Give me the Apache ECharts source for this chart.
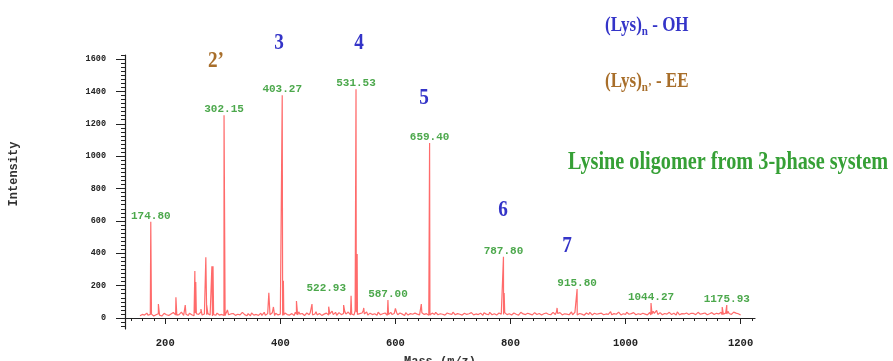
<!DOCTYPE html>
<html>
<head>
<meta charset="utf-8">
<script src="https://cdn.jsdelivr.net/npm/echarts@6/dist/echarts.min.js"></script>
<style>
  html, body { margin: 0; padding: 0; background: #fff; }
  #chart { width: 893px; height: 361px; }
</style>
</head>
<body>
<div id="chart"></div>
<script>
// Baseline profile of the spectrum, two interleaved sample sets (every 4 m/z each)
const noiseStartA = 156;
const noiseStartB = 158;
const noiseStep = 4;
const noiseLevelsA = [
  14, 22, 18, 30, 16, 24, 12, 20, 26, 15, 19, 33, 17, 22, 14, 28, 18, 21, 36, 16,
  23, 15, 27, 19, 31, 14, 22, 18, 25, 20, 16, 29, 21, 17, 34, 19, 24, 15, 28, 22,
  17, 26, 20, 32, 15, 23, 19, 27, 14, 21, 30, 18, 24, 16, 35, 20, 25, 17, 22, 29,
  19, 24, 16, 31, 21, 18, 27, 15, 23, 38, 20, 17, 26, 22, 33, 18, 25, 19, 28, 16,
  24, 30, 18, 26, 21, 35, 19, 27, 23, 40, 20, 31, 25, 18, 36, 22, 28, 44, 24, 19,
  30, 21, 26, 17, 33, 23, 19, 28, 22, 35, 18, 25, 20, 31, 24, 16, 29, 21, 38, 22,
  19, 27, 23, 34, 20, 26, 18, 30, 22, 25, 17, 32, 21, 28, 19, 24, 36, 20, 27, 23,
  18, 29, 22, 26, 33, 19, 25, 21, 30, 17, 27, 23, 35, 20, 26, 18, 31, 24, 22, 28,
  20, 33, 24, 19, 28, 22, 36, 18, 25, 21, 30, 17, 27, 23, 34, 20, 26, 19, 29, 22,
  25, 38, 21, 27, 18, 32, 23, 26, 20, 35, 19, 28, 24, 17, 31, 22, 27, 20, 33, 25,
  21, 29, 18, 34, 24, 20, 27, 23, 36, 19, 26, 22, 31, 25, 18, 28, 24, 38, 21, 30,
  23, 27, 19, 42, 26, 22, 33, 20, 28, 24, 35, 21, 29, 18, 32, 25, 22, 37, 20, 27,
  24, 31, 19, 28, 22, 26, 34, 21, 29, 25, 23, 38, 27, 20, 33, 24, 28, 22, 36, 30,
  26, 18
];
const noiseLevelsB = [
  20, 13, 27, 17, 22, 31, 15, 24, 18, 12, 29, 20, 16, 25, 34, 19, 23, 13, 26, 21,
  17, 30, 20, 14, 26, 22, 37, 16, 21, 27, 19, 13, 24, 30, 18, 22, 16, 33, 20, 25,
  28, 16, 23, 19, 35, 21, 14, 26, 31, 18, 22, 16, 29, 23, 17, 27, 20, 32, 15, 24,
  21, 34, 18, 25, 15, 29, 22, 36, 19, 24, 28, 15, 31, 20, 23, 17, 39, 22, 18, 27,
  31, 19, 26, 42, 23, 17, 33, 21, 28, 24, 37, 19, 29, 46, 22, 27, 31, 25, 38, 23,
  18, 29, 24, 36, 20, 26, 31, 17, 25, 22, 28, 34, 19, 24, 21, 33, 18, 27, 23, 30,
  24, 19, 32, 22, 27, 17, 29, 24, 35, 20, 26, 23, 18, 31, 25, 22, 28, 19, 33, 21,
  27, 22, 17, 34, 23, 28, 21, 26, 19, 32, 24, 20, 29, 22, 37, 25, 19, 27, 33, 21,
  26, 19, 31, 23, 17, 35, 25, 21, 29, 24, 19, 33, 22, 28, 18, 26, 31, 23, 20, 35,
  22, 28, 33, 19, 26, 24, 20, 37, 23, 27, 30, 21, 18, 26, 24, 35, 19, 29, 23, 27,
  30, 20, 25, 22, 39, 26, 19, 32, 24, 28, 21, 35, 23, 27, 33, 20, 26, 22, 29, 24,
  19, 34, 25, 28, 47, 22, 27, 24, 36, 21, 26, 30, 23, 38, 20, 27, 25, 31, 22, 29,
  28, 21, 35, 23, 27, 31, 20, 26, 33, 22, 29, 25, 36, 24, 30, 41, 23, 27, 32, 25,
  22
];

// Unlabelled peaks: m/z and intensity
const minorMz  = [188, 218.5, 234.7, 251.4, 253, 262, 270.5, 272, 281, 283, 308, 380, 388, 405.3, 428, 455, 484, 510, 533.5, 545, 600, 645, 789, 881, 1168];
const minorInt = [86, 128, 80, 290, 222, 55, 375, 80, 320, 320, 50, 156, 68, 230, 105, 86, 70, 80, 395, 62, 60, 86, 155, 62, 68];

// Labelled peaks: m/z and intensity
const peakMz  = [174.80, 302.15, 403.27, 522.93, 531.53, 587.00, 659.40, 787.80, 915.80, 1044.27, 1175.93];
const peakInt = [595, 1253, 1377, 138, 1414, 111, 1082, 378, 179, 92, 80];

// Axis tick labels
const xTickLabels = [200, 400, 600, 800, 1000, 1200];
const yTickLabels = [0, 200, 400, 600, 800, 1000, 1200, 1400, 1600];

// Oligomer annotations
const seriesOH = ['3', '4', '5', '6', '7'];
const seriesEE = ['2\u2019'];

// ---- build the profile: baseline samples plus every peak, in m/z order
const profile = [];
noiseLevelsA.forEach((v, i) => profile.push([noiseStartA + i * noiseStep, v]));
noiseLevelsB.forEach((v, i) => profile.push([noiseStartB + i * noiseStep, v]));
minorMz.forEach((m, i) => profile.push([m, minorInt[i]]));
peakMz.forEach((m, i) => profile.push([m, peakInt[i]]));
profile.sort((a, b) => a[0] - b[0]);

const X_MIN = 130, X_MAX = 1225, Y_MIN = -68, Y_MAX = 1625;

const xMinor = [];
for (let v = 140; v <= 1220; v += 20) if (v % 200 !== 0) xMinor.push(v);
const yMinor = [];
for (let v = -50; v <= 1625; v += 25) if (v % 200 !== 0) yMinor.push(v);

const labelFont = 'Liberation Mono, DejaVu Sans Mono, monospace';
const peakGreen = '#1f921f';
const plain = v => String(v);

const peakData = peakMz.map((m, i) => {
  const item = { value: [m, peakInt[i]] };
  if (m === 522.93) {
    item.label = { position: 'left', distance: 5, offset: [0, -7] };
  }
  return item;
});

const blue = '#3434c8';
const brown = '#a86e2a';
const numFont = 'bold 24px "Liberation Serif", "Times New Roman", serif';

function numText(t, x, y, color) {
  return {
    type: 'text', x: x, y: y, scaleX: 0.8, z: 100,
    style: { text: t, font: numFont, fill: color, textAlign: 'center', textVerticalAlign: 'middle' }
  };
}

const numPos = [[279, 43], [359, 43], [424, 98], [503, 210], [567, 246]];
const graphics = [];
seriesOH.forEach((t, i) => graphics.push(numText(t, numPos[i][0], numPos[i][1], blue)));
graphics.push(numText(seriesEE[0], 216, 61, brown));

function lysLabel(prime, tail, y, color) {
  return {
    type: 'text', x: 605, y: y, scaleX: 0.85, z: 100,
    style: {
      text: '{a|(Lys)}{s|n' + prime + '}{a|' + tail + '}',
      fill: color,
      textVerticalAlign: 'middle',
      rich: {
        a: { fontFamily: 'Liberation Serif', fontWeight: 'bold', fontSize: 20, lineHeight: 24, fill: color, verticalAlign: 'middle' },
        s: { fontFamily: 'Liberation Serif', fontWeight: 'bold', fontSize: 13, lineHeight: 14, fill: color, verticalAlign: 'bottom' }
      }
    }
  };
}
graphics.push(lysLabel('', ' - OH', 26, blue));
graphics.push(lysLabel('\u2019', ' - EE', 82, brown));

graphics.push({
  type: 'text', x: 568, y: 163, scaleX: 0.81, z: 100,
  style: {
    text: 'Lysine oligomer from 3-phase system',
    font: 'bold 25px "Liberation Serif", "Times New Roman", serif',
    fill: '#36a036', textVerticalAlign: 'middle'
  }
});

graphics.push({
  type: 'text', x: 14, y: 174, rotation: Math.PI / 2, z: 100,
  style: {
    text: 'Intensity', font: 'bold 12px ' + labelFont, fill: '#333',
    textAlign: 'center', textVerticalAlign: 'middle'
  }
});

const chart = echarts.init(document.getElementById('chart'), null, { renderer: 'canvas' });
chart.setOption({
  animation: false,
  backgroundColor: '#fff',
  grid: { left: 125, right: 138, top: 55, bottom: 32, containLabel: false, outerBoundsMode: 'none' },
  xAxis: [
    {
      type: 'value', min: X_MIN, max: X_MAX, position: 'bottom',
      name: 'Mass (m/z)', nameLocation: 'middle', nameGap: 27,
      nameTextStyle: { fontFamily: labelFont, fontWeight: 'bold', fontSize: 12, color: '#333' },
      axisLine: { show: true, lineStyle: { color: '#222', width: 1.2 } },
      axisTick: { show: true, customValues: xTickLabels, length: 6, lineStyle: { color: '#222' } },
      axisLabel: { customValues: xTickLabels, formatter: plain, margin: 9, fontFamily: labelFont, fontWeight: 'bold', fontSize: 10.5, color: '#222' },
      splitLine: { show: false }
    },
    {
      type: 'value', min: X_MIN, max: X_MAX, position: 'bottom',
      axisLine: { show: false },
      axisTick: { show: true, customValues: xMinor, length: 3, lineStyle: { color: '#222' } },
      axisLabel: { show: false },
      splitLine: { show: false }
    }
  ],
  yAxis: [
    {
      type: 'value', min: Y_MIN, max: Y_MAX, position: 'left',
      axisLine: { show: true, lineStyle: { color: '#222', width: 1.2 } },
      axisTick: { show: true, customValues: yTickLabels, length: 9, lineStyle: { color: '#222' } },
      axisLabel: { customValues: yTickLabels, formatter: plain, margin: 19, fontFamily: labelFont, fontWeight: 'bold', fontSize: 8.5, color: '#222' },
      splitLine: { show: false }
    },
    {
      type: 'value', min: Y_MIN, max: Y_MAX, position: 'left',
      axisLine: { show: false },
      axisTick: { show: true, customValues: yMinor, length: 4, lineStyle: { color: '#222' } },
      axisLabel: { show: false },
      splitLine: { show: false }
    }
  ],
  series: [
    {
      type: 'line', xAxisIndex: 0, yAxisIndex: 0,
      data: profile, symbol: 'none', sampling: null,
      lineStyle: { color: '#ff6b6b', width: 1.2 },
      silent: true, z: 2
    },
    {
      type: 'scatter', xAxisIndex: 0, yAxisIndex: 0,
      data: peakData, symbolSize: 0,
      label: {
        show: true, position: 'top', distance: 0,
        formatter: p => p.value[0].toFixed(2),
        fontFamily: labelFont, fontWeight: 'bold', fontSize: 11, color: peakGreen
      },
      silent: true, z: 3
    }
  ],
  graphic: graphics
});
</script>
</body>
</html>
